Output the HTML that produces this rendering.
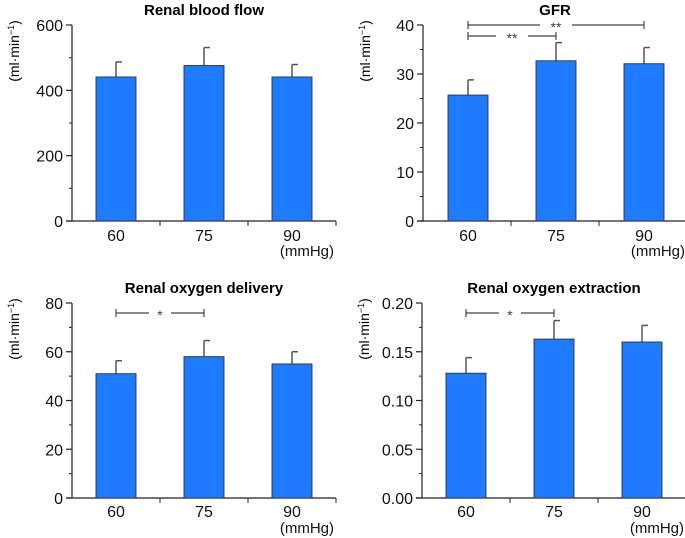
<!DOCTYPE html>
<html><head><meta charset="utf-8"><style>
html,body{margin:0;padding:0;background:#fff;}
svg{display:block;font-family:"Liberation Sans","DejaVu Sans",sans-serif;}
</style></head><body>
<svg id="fig" width="685" height="538" viewBox="0 0 685 538"></svg>
<script>
const categories = ["60","75","90"];
const rbfValues = [441,476,441];
const rbfErrTop = [487,531,479];
const rbfTicks = [0,200,400,600];
const gfrValues = [25.7,32.7,32.1];
const gfrErrTop = [28.8,36.4,35.4];
const gfrTicks = [0,10,20,30,40];
const delValues = [51,58,55];
const delErrTop = [56.3,64.6,60];
const delTicks = [0,20,40,60,80];
const extValues = [0.128,0.163,0.160];
const extErrTop = [0.144,0.182,0.177];
const extTicks = [0,0.05,0.10,0.15,0.20];
const extTickLabels = ["0.00","0.05","0.10","0.15","0.20"];

const NS="http://www.w3.org/2000/svg";
const svg=document.getElementById('fig');
function mk(tag,attrs,parent,text){const e=document.createElementNS(NS,tag);for(const k in attrs)e.setAttribute(k,attrs[k]);if(text!==undefined)e.textContent=text;(parent||svg).appendChild(e);return e;}

function panel(name,cfg){
  const g=mk('g',{});
  
  
  const ax=cfg.ax, top=cfg.top, bot=cfg.bot, xend=ax+264, cw=88;
  const ymax=cfg.ticks[cfg.ticks.length-1];
  const y=v=>bot-(v/ymax)*(bot-top);
  const xc=i=>ax+cw/2+i*cw-(cfg.shift||0);
  const t=mk('text',{x:ax+132,y:top-10,'text-anchor':'middle','font-weight':'bold','font-size':'15',fill:'#000'},g,cfg.title);
  
  const yl=mk('text',{x:0,y:0,transform:`translate(${ax-53},${top+26}) rotate(-90)`,'text-anchor':'middle','font-size':'14',fill:'#000'},g);
  
  yl.textContent='(ml·min';
  mk('tspan',{dy:'-5','font-size':'9'},yl,'−1');
  mk('tspan',{dy:'5'},yl,')');
  const ya=mk('line',{x1:ax,y1:top,x2:ax,y2:bot,stroke:'#222','stroke-width':1.2},g);
  
  const xa=mk('line',{x1:ax-6,y1:bot,x2:xend,y2:bot,stroke:'#222','stroke-width':1.2},g);
  
  cfg.ticks.forEach((v,i)=>{
    mk('line',{x1:ax-6,y1:y(v),x2:ax,y2:y(v),stroke:'#222','stroke-width':1.2},g);
    const tl=mk('text',{x:ax-9,y:y(v)+6,'text-anchor':'end','font-size':'16',fill:'#111'},g,cfg.labels?cfg.labels[i]:String(v));
    
    if(i<cfg.ticks.length-1){const m=(v+cfg.ticks[i+1])/2;mk('line',{x1:ax-3,y1:y(m),x2:ax,y2:y(m),stroke:'#222','stroke-width':1},g);}
  });
  for(let i=1;i<=3;i++){mk('line',{x1:ax+i*cw,y1:bot,x2:ax+i*cw,y2:bot+5,stroke:'#222','stroke-width':1},g);}
  categories.forEach((c,i)=>{
    const cx=xc(i);
    const el=mk('line',{x1:cx,y1:y(cfg.vals[i]),x2:cx,y2:y(cfg.err[i]),stroke:'#555','stroke-width':1.5},g);
    
    mk('line',{x1:cx,y1:y(cfg.err[i]),x2:cx+6,y2:y(cfg.err[i]),stroke:'#555','stroke-width':1.5},g);
    const b=mk('rect',{x:cx-20,y:y(cfg.vals[i]),width:40,height:bot-y(cfg.vals[i]),fill:'#1e7bff',stroke:'#333','stroke-width':0.9},g);
    
    const xl=mk('text',{x:cx,y:bot+cfg.xlOff,'text-anchor':'middle','font-size':'16',fill:'#111'},g,c);
    
  });
  const u=mk('text',{x:xend-2,y:bot+cfg.uOff,'text-anchor':'end','font-size':'15',fill:'#111'},g,'(mmHg)');
  
  (cfg.sig||[]).forEach(s=>{
    const x1=xc(s[0]),x2=xc(s[1]),yy=s[2],mx=(x1+x2)/2,gap=s[3].length*5+6;
    const sg=mk('g',{},g);
    
    mk('line',{x1:x1,y1:yy,x2:mx-gap,y2:yy,stroke:'#444','stroke-width':1.2},sg);
    mk('line',{x1:mx+gap,y1:yy,x2:x2,y2:yy,stroke:'#444','stroke-width':1.2},sg);
    mk('line',{x1:x1,y1:yy-4,x2:x1,y2:yy+4,stroke:'#444','stroke-width':1.2},sg);
    mk('line',{x1:x2,y1:yy-4,x2:x2,y2:yy+4,stroke:'#444','stroke-width':1.2},sg);
    mk('text',{x:mx,y:yy+7,'text-anchor':'middle','font-size':'14',fill:'#444'},sg,s[3]);
  });
}
panel('renal-blood-flow',{ax:72,top:25,bot:221,xlOff:20,uOff:35,title:'Renal blood flow',ticks:rbfTicks,vals:rbfValues,err:rbfErrTop});
panel('gfr',{ax:423,top:25,bot:221,xlOff:20,uOff:35,title:'GFR',ticks:gfrTicks,vals:gfrValues,err:gfrErrTop,shift:-1,
  sig:[[0,2,25,'**'],[0,1,36,'**']]});
panel('renal-oxygen-delivery',{ax:72,top:303,bot:498,xlOff:19,uOff:35,title:'Renal oxygen delivery',ticks:delTicks,vals:delValues,err:delErrTop,
  sig:[[0,1,313,'*']]});
panel('renal-oxygen-extraction',{ax:422,top:303,bot:498,xlOff:19,uOff:35,title:'Renal oxygen extraction',ticks:extTicks,labels:extTickLabels,vals:extValues,err:extErrTop,
  sig:[[0,1,313,'*']]});
</script>
</body></html>
